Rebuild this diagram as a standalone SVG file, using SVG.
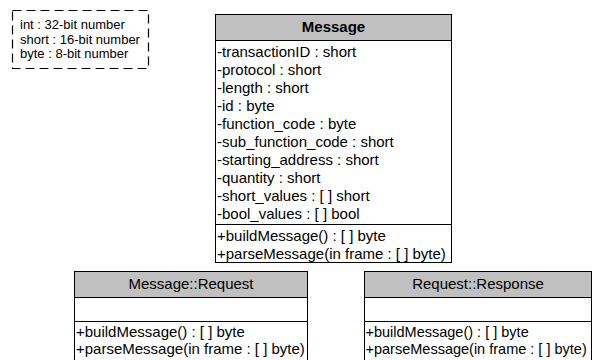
<svg xmlns="http://www.w3.org/2000/svg" width="593" height="360" viewBox="0 0 593 360">
<style>
text{font-family:"Liberation Sans",Arial,sans-serif;fill:#000}
.t{font-size:15px}
.s{font-size:14.5px}
.b{font-weight:bold}
.lg{font-size:13px}
.hd{fill:#c0c0c0;stroke:#000;stroke-width:1}
.bx{fill:#fff;stroke:#000;stroke-width:1}
.ln{stroke:#000;stroke-width:1;fill:none}
</style>
<g id="legend">
<rect x="12.5" y="10.5" width="136" height="58" fill="#fff" stroke="#000" stroke-width="1.2" stroke-dasharray="9 5"/>
<text class="lg" x="20" y="29">int : 32-bit number</text>
<text class="lg" x="20" y="43.5">short : 16-bit number</text>
<text class="lg" x="20" y="58">byte : 8-bit number</text>
</g>
<g id="message">
<rect class="bx" x="215.5" y="14.5" width="236" height="248"/>
<rect class="hd" x="215.5" y="14.5" width="236" height="26"/>
<text class="t b" x="333.5" y="32" text-anchor="middle">Message</text>
<text class="t" x="217" y="56.5">-transactionID : short</text>
<text class="t" x="217" y="74.6">-protocol : short</text>
<text class="t" x="217" y="92.7">-length : short</text>
<text class="t" x="217" y="110.8">-id : byte</text>
<text class="t" x="217" y="128.9">-function_code : byte</text>
<text class="t" x="217" y="147">-sub_function_code : short</text>
<text class="t" x="217" y="165.1">-starting_address : short</text>
<text class="t" x="217" y="183.2">-quantity : short</text>
<text class="t" x="217" y="201.3">-short_values : [ ] short</text>
<text class="t" x="217" y="219.4">-bool_values : [ ] bool</text>
<line class="ln" x1="215.5" y1="224.5" x2="451.5" y2="224.5"/>
<text class="t" x="217" y="241">+buildMessage() : [ ] byte</text>
<text class="t" x="217" y="259">+parseMessage(in frame : [ ] byte)</text>
</g>
<g id="request">
<rect class="bx" x="74.5" y="271.5" width="233" height="100"/>
<rect class="hd" x="74.5" y="271.5" width="233" height="26"/>
<text class="t" x="191" y="289" text-anchor="middle">Message::Request</text>
<line class="ln" x1="74.5" y1="321.5" x2="307.5" y2="321.5"/>
<text class="t" x="76" y="337">+buildMessage() : [ ] byte</text>
<text class="t" x="76" y="354">+parseMessage(in frame : [ ] byte)</text>
</g>
<g id="response">
<rect class="bx" x="364.5" y="271.5" width="227" height="100"/>
<rect class="hd" x="364.5" y="271.5" width="227" height="26"/>
<text class="t" x="478" y="289" text-anchor="middle">Request::Response</text>
<line class="ln" x1="364.5" y1="321.5" x2="591.5" y2="321.5"/>
<text class="s" x="365.5" y="337">+buildMessage() : [ ] byte</text>
<text class="s" x="365.5" y="354">+parseMessage(in frame : [ ] byte)</text>
</g>
<g id="connectors"></g>
</svg>
